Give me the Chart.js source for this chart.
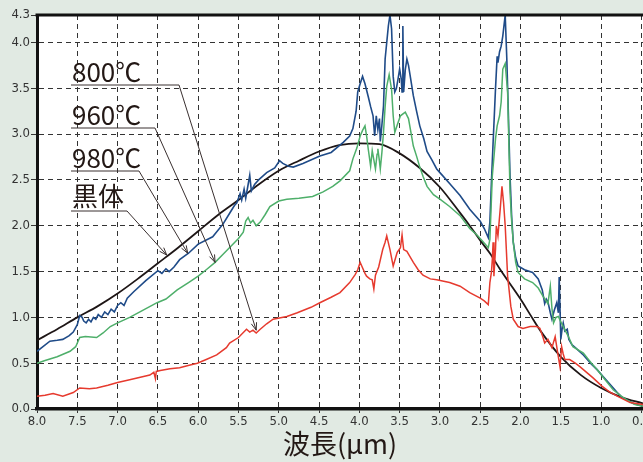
<!DOCTYPE html>
<html><head><meta charset="utf-8">
<script src="https://cdn.jsdelivr.net/npm/chart.js@4.4.0/dist/chart.umd.min.js"></script>
<style>html,body{margin:0;padding:0;background:#e1eae3;overflow:hidden}canvas{display:block}</style>
</head><body>
<canvas id="c" width="643" height="462"></canvas>
<script>
// ---- tick labels ----
const X_TICKS = [8.0,7.5,7.0,6.5,6.0,5.5,5.0,4.5,4.0,3.5,3.0,2.5,2.0,1.5,1.0,0.5];
const Y_TICKS = [0.0,0.5,1.0,1.5,2.0,2.5,3.0,3.5,4.0,4.3];
const X_TITLE = '波長(μm)';

// ---- series: blackbody ----
const BLACK_WL  = [8.0,7.75,7.5,7.25,7.0,6.75,6.5,6.25,6.0,5.75,5.5,5.25,5.0,4.75,4.5,4.25,4.0,3.75,3.5,3.25,3.0,2.75,2.63,2.5,2.38,2.25,2.0,1.88,1.75,1.5,1.25,1.0,0.75,0.48];
const BLACK_VAL = [0.75,0.87,1.0,1.12,1.26,1.42,1.59,1.76,1.94,2.12,2.28,2.45,2.60,2.71,2.81,2.88,2.90,2.89,2.79,2.63,2.42,2.14,2.0,1.84,1.70,1.52,1.20,1.03,0.85,0.57,0.37,0.23,0.13,0.06];

// ---- series: 980℃ ----
const S980_WL  = [8.0,7.84,7.75,7.68,7.6,7.55,7.5,7.47,7.44,7.42,7.39,7.36,7.33,7.3,7.27,7.24,7.2,7.16,7.12,7.08,7.04,7.0,6.96,6.92,6.88,6.8,6.65,6.5,6.45,6.4,6.36,6.3,6.23,6.12,6.0,5.82,5.69,5.6,5.55,5.52,5.48,5.46,5.43,5.41,5.38,5.36,5.34,5.3,5.25,5.15,5.05,4.99,4.95,4.88,4.82,4.7,4.49,4.35,4.2,4.12,4.08,4.04,4.02,3.99,3.96,3.93,3.89,3.86,3.83,3.81,3.79,3.77,3.75,3.74,3.72,3.70,3.68,3.66,3.64,3.62,3.60,3.58,3.56,3.54,3.52,3.5,3.48,3.47,3.46,3.45,3.43,3.41,3.39,3.37,3.33,3.29,3.25,3.2,3.16,3.1,3.04,3.0,2.88,2.75,2.63,2.5,2.45,2.40,2.38,2.36,2.34,2.31,2.29,2.28,2.26,2.24,2.22,2.19,2.17,2.15,2.13,2.11,2.09,2.06,2.03,1.95,1.85,1.78,1.73,1.70,1.68,1.66,1.63,1.61,1.58,1.55,1.53,1.52,1.50,1.48,1.47,1.45,1.42,1.40,1.36,1.32,1.22,1.12,1.05,0.97,0.89,0.8,0.73,0.6,0.48];
const S980_VAL = [0.63,0.74,0.75,0.76,0.80,0.84,0.92,1.02,1.0,0.96,0.94,0.98,0.95,1.0,0.98,1.03,1.0,1.06,1.03,1.09,1.06,1.13,1.16,1.13,1.21,1.28,1.40,1.51,1.48,1.53,1.50,1.55,1.63,1.70,1.80,1.88,2.02,2.15,2.22,2.25,2.35,2.28,2.40,2.30,2.45,2.55,2.38,2.45,2.50,2.58,2.63,2.71,2.68,2.65,2.64,2.68,2.76,2.80,2.91,2.98,3.06,3.25,3.46,3.55,3.63,3.55,3.41,3.30,3.20,2.98,3.20,3.05,3.17,2.92,3.10,3.31,3.82,4.0,4.18,4.3,4.15,3.63,3.46,3.50,3.60,3.71,3.60,3.46,4.18,3.46,3.70,3.82,3.75,3.64,3.42,3.25,3.09,2.95,2.81,2.72,2.62,2.58,2.46,2.33,2.18,2.05,1.97,1.87,2.04,2.50,2.91,3.50,3.85,3.78,3.90,3.96,4.07,4.3,3.82,3.20,2.54,2.10,1.82,1.65,1.56,1.52,1.49,1.42,1.30,1.15,1.20,1.17,1.05,0.98,1.08,1.16,1.05,1.44,0.76,0.90,0.94,0.85,0.87,0.76,0.70,0.67,0.59,0.49,0.43,0.35,0.27,0.18,0.12,0.06,0.03];

// ---- series: 960℃ ----
const S960_WL  = [8.0,7.9,7.75,7.59,7.52,7.47,7.4,7.26,7.18,7.09,7.0,6.85,6.7,6.51,6.4,6.26,6.12,6.0,5.9,5.79,5.7,5.6,5.5,5.44,5.41,5.38,5.35,5.32,5.28,5.23,5.17,5.11,5.0,4.9,4.75,4.58,4.45,4.33,4.24,4.12,4.08,4.03,3.99,3.96,3.93,3.91,3.89,3.86,3.84,3.82,3.8,3.78,3.77,3.75,3.74,3.72,3.70,3.68,3.66,3.63,3.60,3.58,3.56,3.53,3.49,3.43,3.39,3.33,3.29,3.25,3.21,3.16,3.08,3.0,2.88,2.75,2.63,2.54,2.47,2.40,2.38,2.35,2.31,2.29,2.26,2.24,2.22,2.19,2.16,2.13,2.11,2.09,2.06,2.03,1.95,1.85,1.78,1.72,1.66,1.63,1.61,1.59,1.56,1.53,1.5,1.47,1.4,1.35,1.22,1.12,1.05,0.95,0.85,0.75,0.68,0.58,0.48];
const S960_VAL = [0.50,0.53,0.57,0.63,0.68,0.78,0.79,0.78,0.83,0.90,0.94,1.0,1.07,1.16,1.20,1.30,1.38,1.45,1.52,1.60,1.68,1.77,1.86,1.93,2.05,2.09,2.03,2.06,2.0,2.04,2.12,2.21,2.27,2.29,2.30,2.32,2.37,2.43,2.49,2.60,2.73,2.85,2.98,3.04,3.09,2.98,2.84,2.65,2.82,2.72,2.62,2.78,2.84,2.70,2.62,2.80,3.02,3.30,3.52,3.65,3.49,3.20,3.02,3.10,3.20,3.24,3.17,2.87,2.76,2.64,2.54,2.43,2.34,2.29,2.21,2.11,1.97,1.90,1.83,1.76,1.85,2.54,2.95,3.09,3.20,3.35,3.71,3.77,3.46,2.37,2.05,1.82,1.60,1.49,1.42,1.38,1.32,1.23,1.15,1.34,1.10,0.94,1.0,1.01,0.95,0.90,0.78,0.68,0.61,0.50,0.43,0.32,0.21,0.14,0.10,0.05,0.03];

// ---- series: 800℃ ----
const S800_WL  = [8.0,7.9,7.8,7.68,7.55,7.47,7.35,7.26,7.12,7.0,6.85,6.6,6.55,6.53,6.52,6.47,6.35,6.23,6.1,6.01,5.9,5.77,5.65,5.61,5.5,5.4,5.36,5.32,5.28,5.23,5.15,5.07,4.9,4.77,4.6,4.49,4.35,4.24,4.12,4.05,4.02,3.99,3.97,3.93,3.91,3.87,3.84,3.82,3.80,3.76,3.71,3.68,3.66,3.62,3.58,3.55,3.53,3.49,3.47,3.45,3.41,3.37,3.33,3.27,3.21,3.12,3.04,2.88,2.75,2.63,2.5,2.45,2.40,2.38,2.36,2.35,2.34,2.33,2.31,2.30,2.28,2.25,2.23,2.21,2.19,2.16,2.12,2.09,2.03,1.97,1.88,1.8,1.76,1.72,1.7,1.66,1.61,1.57,1.54,1.51,1.49,1.47,1.45,1.39,1.32,1.26,1.18,1.10,0.99,0.9,0.8,0.64,0.48];
const S800_VAL = [0.14,0.15,0.17,0.14,0.18,0.23,0.22,0.23,0.26,0.29,0.32,0.37,0.40,0.33,0.41,0.42,0.44,0.45,0.48,0.50,0.54,0.59,0.67,0.72,0.78,0.87,0.84,0.86,0.83,0.87,0.93,0.98,1.01,1.05,1.11,1.16,1.22,1.27,1.38,1.47,1.52,1.60,1.56,1.48,1.45,1.42,1.41,1.31,1.46,1.55,1.74,1.82,1.89,1.74,1.56,1.65,1.71,1.76,1.90,1.74,1.72,1.66,1.60,1.52,1.46,1.42,1.41,1.38,1.34,1.27,1.21,1.18,1.14,1.38,1.50,1.63,1.82,1.45,1.75,2.0,1.89,2.20,2.43,2.25,2.0,1.45,1.12,0.98,0.90,0.88,0.90,0.90,0.88,0.78,0.72,0.76,0.67,0.79,0.62,0.46,0.68,0.60,0.54,0.54,0.50,0.46,0.40,0.34,0.25,0.19,0.14,0.07,0.05];

// ---- callout labels: text and the (wavelength, value) point each arrow points to ----
const CALLOUT_TEXT = ['800℃','960℃','980℃','黒体'];
const CALLOUT_WL   = [5.28, 5.79, 6.13, 6.39];
const CALLOUT_VAL  = [0.86, 1.60, 1.70, 1.68];

const pts = (xs, ys) => xs.map((x, i) => ({x: x, y: ys[i]}));

const TICK_FONT = {family: "'Liberation Sans Narrow','DejaVu Sans Condensed',sans-serif", size: 13};
const CJK = "'Noto Sans CJK JP','Noto Sans',sans-serif";

const calloutLayout = [
  {textY: 82, lineY: 85, lineEnd: 179},
  {textY: 125, lineY: 128, lineEnd: 155},
  {textY: 168, lineY: 171, lineEnd: 139},
  {textY: 206, lineY: 211, lineEnd: 127}
];

const decor = {
  id: 'decor',
  beforeDatasetsDraw(chart) {
    // nothing
  },
  beforeDraw(chart) {
    const {ctx, chartArea: a} = chart;
    ctx.save();
    ctx.fillStyle = '#ffffff';
    ctx.fillRect(a.left, a.top, a.right - a.left, a.bottom - a.top);
    ctx.restore();
  },
  afterDraw(chart) {
    const {ctx, chartArea: a, scales} = chart;
    ctx.save();
    // top frame line
    ctx.strokeStyle = '#111';
    ctx.lineWidth = 3;
    ctx.beginPath();
    ctx.moveTo(a.left - 1.5, a.top);
    ctx.lineTo(a.right, a.top);
    ctx.stroke();
    // callouts
    ctx.font = '26px ' + CJK;
    ctx.textBaseline = 'alphabetic';
    ctx.textAlign = 'left';
    CALLOUT_TEXT.forEach((t, i) => {
      const L = calloutLayout[i];
      const x0 = a.left + 34;
      ctx.fillStyle = '#231815';
      ctx.fillText(t, x0 + 1, L.textY);
      const tx = scales.x.getPixelForValue(CALLOUT_WL[i]);
      const ty = scales.y.getPixelForValue(CALLOUT_VAL[i]);
      ctx.strokeStyle = '#3a3030';
      ctx.lineWidth = 1;
      ctx.beginPath();
      ctx.moveTo(x0, L.lineY);
      ctx.lineTo(L.lineEnd, L.lineY);
      ctx.lineTo(tx, ty);
      ctx.stroke();
      const ang = Math.atan2(ty - L.lineY, tx - L.lineEnd);
      const len = 8, spread = 0.35;
      ctx.beginPath();
      ctx.moveTo(tx - len * Math.cos(ang - spread), ty - len * Math.sin(ang - spread));
      ctx.lineTo(tx, ty);
      ctx.lineTo(tx - len * Math.cos(ang + spread), ty - len * Math.sin(ang + spread));
      ctx.stroke();
    });
    ctx.restore();
  }
};

const lineDs = (label, data, color, w) => ({
  label: label, data: data, borderColor: color, backgroundColor: color,
  borderWidth: w, pointRadius: 0, fill: false, tension: 0
});

new Chart(document.getElementById('c'), {
  type: 'line',
  data: {
    datasets: [
      lineDs('800℃', pts(S800_WL, S800_VAL), '#e63a2e', 1.5),
      lineDs('960℃', pts(S960_WL, S960_VAL), '#4eaf6a', 1.5),
      lineDs('980℃', pts(S980_WL, S980_VAL), '#1f4b88', 1.6),
      Object.assign(lineDs('黒体', pts(BLACK_WL, BLACK_VAL), '#1e1616', 1.8), {cubicInterpolationMode: 'monotone'})
    ]
  },
  options: {
    responsive: false,
    animation: false,
    devicePixelRatio: 1,
    layout: {padding: {top: 15, left: 0, right: 0, bottom: 0}},
    plugins: {legend: {display: false}, tooltip: {enabled: false}},
    scales: {
      x: {
        type: 'linear', reverse: true, min: 0.48, max: 8.0,
        afterBuildTicks: s => { s.ticks = X_TICKS.map(v => ({value: v})); },
        afterFit: s => { s.height = 53; s.paddingLeft = 0; s.paddingRight = 0; },
        ticks: {callback: v => Number(v).toFixed(1), font: TICK_FONT, color: '#333', padding: 1, maxRotation: 0, autoSkip: false},
        grid: {color: '#333', lineWidth: 1, tickLength: 4, tickColor: '#333', drawTicks: true},
        border: {display: true, color: '#111', width: 3.5, dash: [5, 4]},
        title: {display: true, text: X_TITLE, font: {family: CJK, size: 27}, color: '#231815', padding: {top: 0, bottom: 2}}
      },
      y: {
        type: 'linear', min: 0, max: 4.3,
        afterBuildTicks: s => { s.ticks = Y_TICKS.map(v => ({value: v})); },
        afterFit: s => { s.width = 37; s.paddingTop = 0; s.paddingBottom = 0; },
        ticks: {callback: v => Number(v).toFixed(1), font: TICK_FONT, color: '#333', padding: 1},
        grid: {color: '#333', lineWidth: 1, tickLength: 6, tickColor: '#333', drawTicks: true},
        border: {display: true, color: '#111', width: 3, dash: [5, 4]}
      }
    }
  },
  plugins: [decor]
});
</script>
</body></html>
